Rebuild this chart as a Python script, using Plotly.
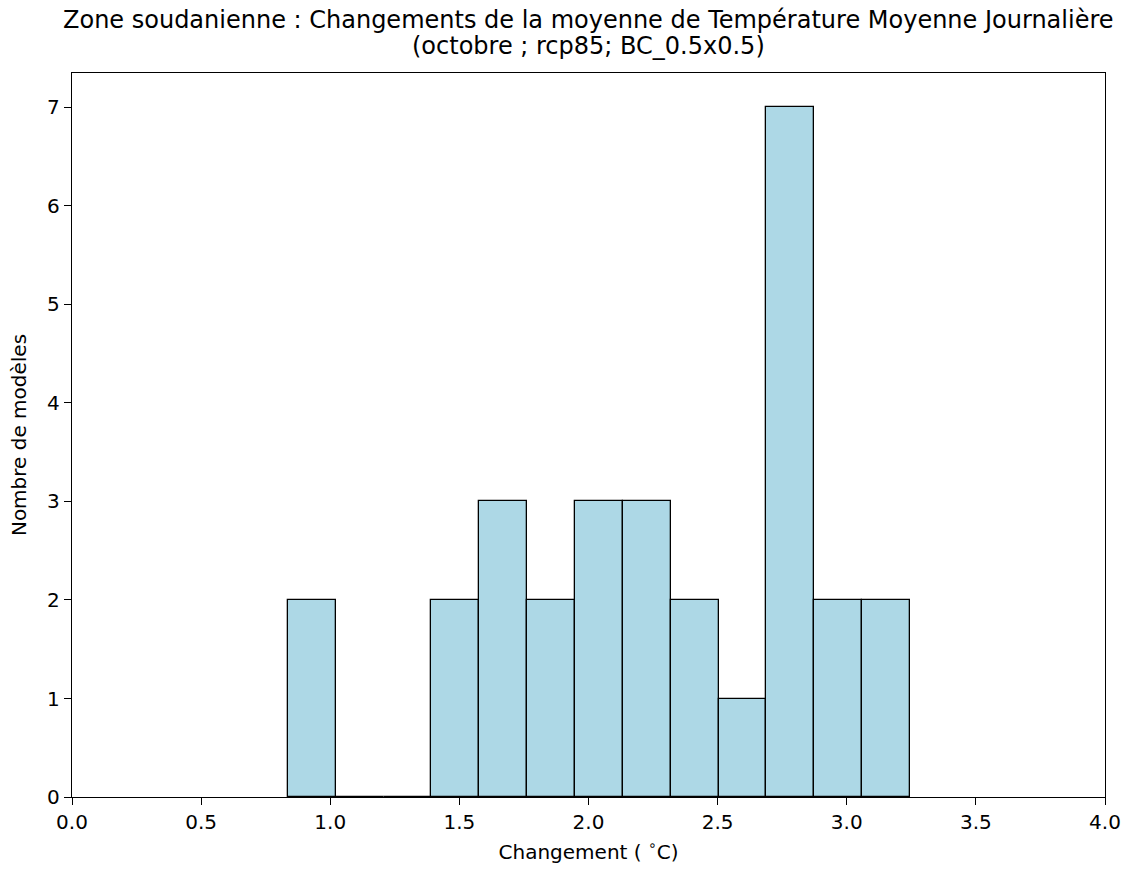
import plotly.graph_objects as go

# Histogram data
bin_edges = [0.836, 1.021, 1.207, 1.392, 1.577, 1.763, 1.948, 2.133,
             2.318, 2.504, 2.689, 2.874, 3.060, 3.245]
counts = [2, 0, 0, 2, 3, 2, 3, 3, 2, 1, 7, 2, 2]
x_ticks = [0.0, 0.5, 1.0, 1.5, 2.0, 2.5, 3.0, 3.5, 4.0]
y_ticks = [0, 1, 2, 3, 4, 5, 6, 7]
title_lines = ["Zone soudanienne : Changements de la moyenne de Température Moyenne Journalière",
               "(octobre ; rcp85; BC_0.5x0.5)"]

centers = [(a + b) / 2 for a, b in zip(bin_edges[:-1], bin_edges[1:])]
widths = [b - a for a, b in zip(bin_edges[:-1], bin_edges[1:])]

fig = go.Figure(go.Bar(
    x=centers, y=counts, width=widths,
    marker=dict(color="#add8e6", line=dict(color="black", width=1.3)),
    hoverinfo="x+y",
))

font = "DejaVu Sans, sans-serif"
PLOT_TOP, PLOT_BOTTOM = 73, 797
def ypaper(screen_y):
    return (PLOT_BOTTOM - screen_y) / (PLOT_BOTTOM - PLOT_TOP)

annotations = [
    dict(text=title_lines[0], x=0.5, xref="paper", xanchor="center",
         y=ypaper(20), yref="paper", yanchor="middle", showarrow=False,
         font=dict(family=font, size=24, color="black")),
    dict(text=title_lines[1], x=0.5, xref="paper", xanchor="center",
         y=ypaper(46), yref="paper", yanchor="middle", showarrow=False,
         font=dict(family=font, size=24, color="black")),
]

fig.update_layout(
    width=1125, height=869,
    margin=dict(l=72, r=20, t=73, b=72),
    paper_bgcolor="white", plot_bgcolor="white",
    font=dict(family=font, size=20, color="black"),
    showlegend=False,
    bargap=0,
    annotations=annotations,
    xaxis=dict(
        range=[0, 4], tickvals=x_ticks, ticktext=[f"{v:.1f}" for v in x_ticks],
        showline=True, mirror=True, linecolor="black", linewidth=1.3,
        ticks="outside", ticklen=7, tickwidth=1.3, tickcolor="black",
        showgrid=False, zeroline=False, automargin=False,
        tickfont=dict(size=20),
        title=dict(text="Changement ( <sup>∘</sup>C)", font=dict(size=20), standoff=11),
    ),
    yaxis=dict(
        range=[0, 7.35], tickvals=y_ticks,
        showline=True, mirror=True, linecolor="black", linewidth=1.3,
        ticks="outside", ticklen=7, tickwidth=1.3, tickcolor="black",
        showgrid=False, zeroline=False, automargin=False,
        tickfont=dict(size=20),
        title=dict(text="Nombre de modèles", font=dict(size=20), standoff=15),
    ),
)

fig.write_html(
    "out.html",
    config={"displayModeBar": False},
    post_script="document.body.style.margin='0px';document.body.style.overflow='hidden';",
)
